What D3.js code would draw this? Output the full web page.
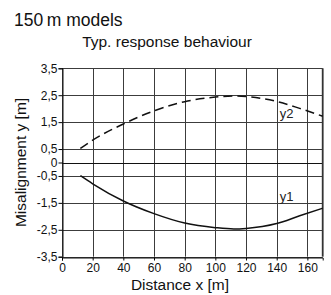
<!DOCTYPE html>
<html>
<head>
<meta charset="utf-8">
<script src="https://cdn.jsdelivr.net/npm/d3@7"></script>
<style>
  body { margin: 0; background: #fff; }
  svg { font-family: "Liberation Sans", Arial, Helvetica, sans-serif; }
</style>
</head>
<body>
<script>
// datos
var distancia = [12, 20, 40, 60, 80, 100, 112, 120, 140, 155, 170]
var y2 = [0.52, 0.83, 1.43, 1.92, 2.26, 2.43, 2.47, 2.45, 2.27, 2.01, 1.72]
var y1 = [-0.49, -0.79, -1.43, -1.90, -2.25, -2.42, -2.47, -2.45, -2.27, -1.98, -1.70]
var ticksX = [0, 20, 40, 60, 80, 100, 120, 140, 160]
var ticksY = [3.5, 2.5, 1.5, 0.5, 0, -0.5, -1.5, -2.5, -3.5]

var width = 331, height = 295,
    margin = { top: 68.3, right: 8.3, bottom: 38.3, left: 62 },
    gridColor = "#3c3c3c"

var svg = d3.select("body")
  .append("svg")
  .attr("width", width)
  .attr("height", height)

var x = d3.scaleLinear()
  .domain([0, 170])
  .range([margin.left, width - margin.right])

var y = d3.scaleLinear()
  .domain([-3.5, 3.5])
  .range([height - margin.bottom, margin.top])

// posiciones nitidas para lineas de 1px
var px = v => Math.round(v) + 0.5

// rejilla
svg.append("g")
  .selectAll("line")
  .data(ticksX)
  .enter()
  .append("line")
  .attr("x1", d => px(x(d))).attr("x2", d => px(x(d)))
  .attr("y1", y(3.5)).attr("y2", y(-3.5))
  .attr("stroke", gridColor)
  .attr("stroke-width", 1)

svg.append("g")
  .selectAll("line")
  .data(ticksY)
  .enter()
  .append("line")
  .attr("x1", x(0)).attr("x2", x(170))
  .attr("y1", d => px(y(d))).attr("y2", d => px(y(d)))
  .attr("stroke", d => d == 0 ? "#111" : gridColor)
  .attr("stroke-width", 1)

// borde derecho
svg.append("line")
  .attr("x1", x(170)).attr("x2", x(170))
  .attr("y1", y(3.5)).attr("y2", y(-3.5))
  .attr("stroke", "#333")
  .attr("stroke-width", 1.8)

// ejes
var fmt = d => d3.format("")(d).replace(".", ",").replace("−", "-")

svg.append("g")
  .attr("transform", "translate(0," + px(y(-3.5)) + ")")
  .call(d3.axisBottom(x).tickValues(ticksX).tickSize(3).tickPadding(3).tickFormat(fmt))
  .call(g => g.select(".domain").attr("stroke", "#111"))
  .call(g => g.selectAll("text").attr("font-size", 12).attr("fill", "#111"))

svg.append("g")
  .attr("transform", "translate(" + px(x(0)) + ",0)")
  .call(d3.axisLeft(y).tickValues(ticksY).tickSize(4).tickPadding(1).tickFormat(fmt))
  .call(g => g.select(".domain").attr("stroke", "#111"))
  .call(g => g.selectAll("text").attr("font-size", 12).attr("fill", "#111"))

// curvas
var linea = serie => d3.line()
  .x((d, i) => x(distancia[i]))
  .y(d => y(d))
  .curve(d3.curveMonotoneX)(serie)

svg.append("path")
  .attr("d", linea(y2))
  .attr("fill", "none")
  .attr("stroke", "#111")
  .attr("stroke-width", 1.5)
  .attr("stroke-dasharray", "9,5")

svg.append("path")
  .attr("d", linea(y1))
  .attr("fill", "none")
  .attr("stroke", "#111")
  .attr("stroke-width", 1.5)

// etiquetas de series
svg.append("text").attr("x", x(142)).attr("y", y(1.5) - 4)
  .attr("font-size", 13).attr("fill", "#222").text("y2")
svg.append("text").attr("x", x(142)).attr("y", y(-1.5) - 2)
  .attr("font-size", 13).attr("fill", "#222").text("y1")

// titulos
svg.append("text").attr("x", 14).attr("y", 26)
  .attr("font-size", 17.5).attr("fill", "#111").text("150\u2009m models")

svg.append("text").attr("x", 167).attr("y", 46.5)
  .attr("text-anchor", "middle")
  .attr("font-size", 15.5).attr("fill", "#111").text("Typ. response behaviour")

svg.append("text").attr("x", 180).attr("y", 290)
  .attr("text-anchor", "middle")
  .attr("font-size", 15.5).attr("fill", "#111").text("Distance x [m]")

svg.append("text")
  .attr("transform", "translate(26," + y(0) + ") rotate(-90)")
  .attr("text-anchor", "middle")
  .attr("font-size", 15.5).attr("fill", "#111").text("Misalignment y [m]")
</script>
</body>
</html>
